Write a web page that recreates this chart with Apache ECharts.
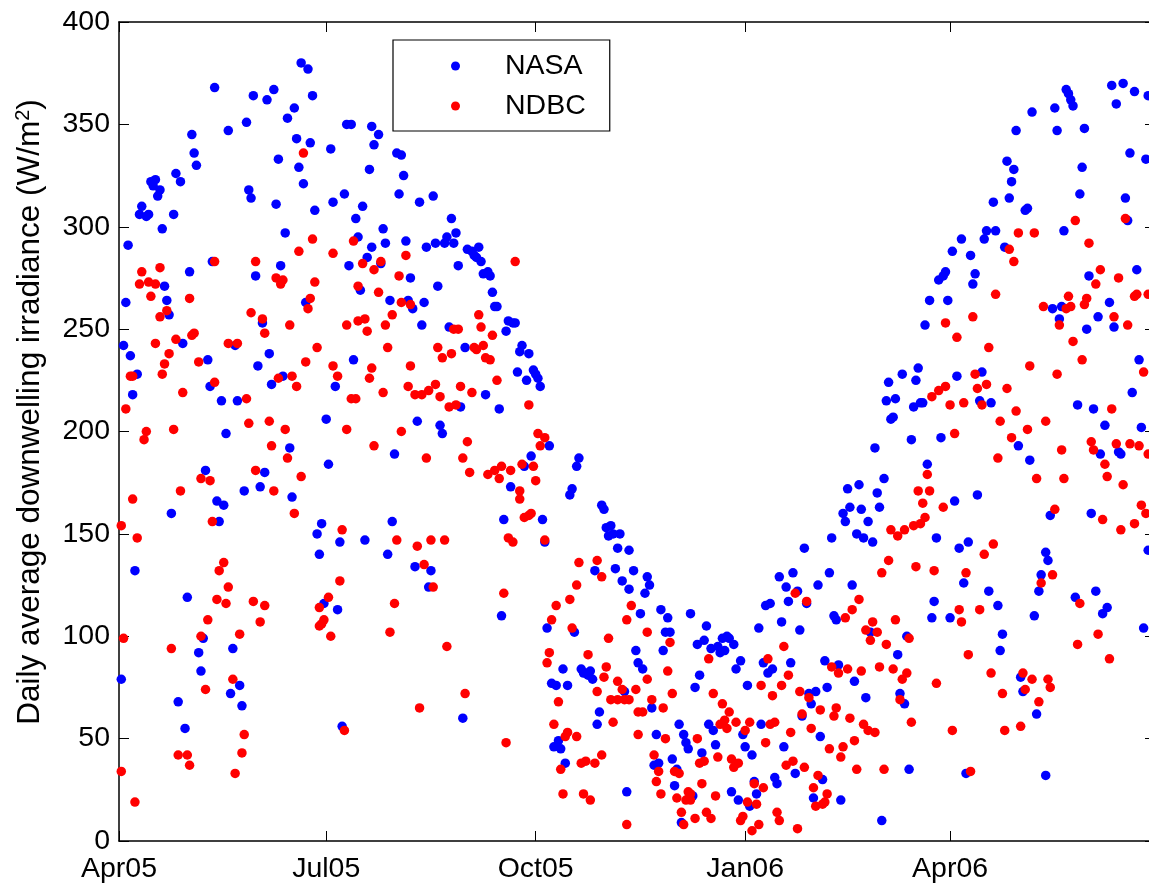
<!DOCTYPE html>
<html>
<head>
<meta charset="utf-8">
<title>Daily average downwelling irradiance</title>
<script src="https://cdn.jsdelivr.net/npm/echarts@6/dist/echarts.min.js"></script>
<style>
  html, body { margin: 0; padding: 0; background: #fff; overflow: hidden; }
  /* the plot box runs a few pixels past the right edge of the page */
  #chart { width: 1160px; height: 884px; }
</style>
</head>
<body>
<div id="chart"></div>
<script>
// Day offsets are counted from 1 April 2005; values in W/m^2.
const dayMax = 455;
const tickDays = [0, 91, 183, 275, 365];
const tickLabels = ['Apr05', 'Jul05', 'Oct05', 'Jan06', 'Apr06'];
const yTicks = [0, 50, 100, 150, 200, 250, 300, 350, 400];

// NASA satellite estimate: [day, value]
const nasaPoints = [
  [4,291],[9,306],[10,310],[12,305],[13,306],[14,322],[15,320],[16,323],[17,315],[18,318],[19,299],[20,271],[24,306],[25,326],[27,322],[31,278],[32,345],[33,336],[34,330],[41,283],[42,368],[48,347],[56,351],[57,318],[58,314],[59,364],[60,276],[65,362],[68,367],[69,311],[70,333],[71,281],[73,297],[74,353],[77,358],[78,343],[79,329],[80,380],[81,321],[83,377],[84,341],[85,364],[86,308],[93,338],[94,312],[99,316],[100,350],[101,281],[102,350],[104,304],[105,295],[106,269],[107,310],[109,285],[110,328],[111,349],[111,290],[112,340],
  [114,345],[115,282],[116,299],[117,292],[122,336],[123,316],[124,335],[125,325],[126,293],[128,275],[132,312],[135,290],[138,315],[139,292],[140,271],[143,292],[144,295],[146,304],[147,292],[148,297],[149,281],[153,289],[155,288],[156,286],[157,285],[158,290],[159,283],[160,277],[162,278],[163,276],[164,268],
  [2,242],[3,263],[5,237],[6,218],[7,132],[8,228],[21,264],[22,257],[23,160],[28,243],[38,181],[39,235],[40,222],[43,166],[44,156],[45,215],[46,164],[47,199],[51,242],[52,215],[55,171],[61,232],[62,173],[63,253],[64,180],[66,238],[67,223],[72,227],[75,192],[76,168],[82,263],[87,150],[88,140],[89,155],[91,206],[92,184],[95,222],[97,146],[103,235],[108,147],
  [1,79],[26,68],[29,55],[30,119],[35,92],[36,83],[37,99],[49,72],[50,94],[53,76],[54,66],[90,116],[96,113],[98,56],
  [118,140],[119,264],[120,156],[121,189],[127,264],[129,260],[130,134],[131,205],[133,252],[134,263],[137,132],[141,203],[142,199],[145,251],[150,212],[152,241],[161,218],[165,261],[166,261],[167,211],[169,157],[170,249],[171,254],[172,173],[173,253],[174,253],[175,229],[176,239],[177,242],[178,183],[179,225],[180,238],[181,188],[182,230],[183,228],[184,226],[185,222],[186,157],[187,146],[189,193],[198,169],[199,172],[201,183],[202,187],[209,132],[212,164],[213,162],[214,153],[215,149],[216,154],[217,150],[218,133],[219,143],[220,150],[224,142],
  [136,124],[151,60],[168,110],[188,104],[190,77],[191,46],[192,76],[193,49],[194,45],[195,84],[196,38],[197,76],[200,102],[203,84],[204,82],[205,82],[206,81],[207,83],[208,79],[210,57],[211,63],[221,127],[222,73],[223,24],[224,123],
  [226,132],[232,129],[290,129],[296,131],[301,143],[312,131],[313,148],[318,160],[319,156],[320,172],[321,163],[324,150],[325,174],[326,162],[327,148],[329,156],[331,146],[332,192],[333,170],[334,163],[336,177],[337,215],[338,224],[339,206],
  [227,93],[228,87],[229,111],[230,84],[231,121],[233,125],[234,65],[235,37],[236,52],[237,38],[238,113],[239,93],[240,102],[241,109],[242,102],[243,40],[244,27],[245,35],[246,57],[247,9],[248,52],[249,48],[250,45],[251,111],[252,22],[253,75],[254,96],[255,81],[256,43],[257,98],[258,105],[259,57],[260,94],[261,54],[262,47],[263,95],[264,92],[265,99],[266,93],[267,100],[268,99],[269,24],[270,96],[271,84],[272,20],[273,88],[274,52],[275,46],[276,76],[277,17],[278,42],[279,29],[280,23],[281,104],[282,57],[283,87],[284,115],[285,82],[286,116],[287,84],[288,31],[289,28],[291,107],[292,46],[293,124],[294,117],[295,87],[297,33],[298,122],[299,103],[300,61],[302,116],[303,72],[304,67],[305,21],[306,73],[307,125],[308,51],[309,30],[310,88],[311,75],[314,110],[315,108],[316,86],[317,20],[322,125],[323,78],[328,70],[330,102],[335,10],
  [340,207],[341,216],[344,228],[348,196],[349,212],[350,225],[351,231],[352,214],[353,214],[354,252],[355,184],[356,264],[359,148],[361,197],[364,264],[367,166],[368,227],[369,143],[373,146],[377,169],[378,215],[379,229],[383,214],[395,193],[400,186],[405,130],[407,141],[408,137],[409,159],[410,260],[413,255],[414,261],[421,213],[425,250],[427,160],[428,211],[430,256],[431,189],[433,203],[435,263],[437,251],[439,190],[440,189],[445,219],[448,235],[449,202],[452,142],
  [360,274],[362,276],[363,278],[366,288],[370,294],[374,286],[375,272],[376,277],[380,294],[381,298],[384,312],[385,298],[389,290],[390,332],[391,314],[392,322],[393,328],[394,347],[398,308],[399,309],[401,356],[411,358],[412,347],[415,298],[416,367],[417,365],[418,362],[419,359],[422,316],[423,329],[424,348],[426,276],[436,369],[438,360],[441,370],[442,314],[443,303],[444,336],[446,366],[447,279],[451,333],[452,364],
  [342,91],[343,72],[345,67],[346,100],[347,35],[357,109],[358,117],[365,109],[371,126],[372,33],[382,122],[386,115],[387,93],[388,101],[396,80],[397,73],[402,110],[403,62],[404,122],[407,32],[420,119],[429,122],[432,111],[434,114],[450,104]
];

// NDBC buoy measurement: [day, value]
const ndbcPoints = [
  [9,272],[10,278],[13,273],[14,266],[16,272],[18,280],[31,265],[42,283],[60,283],[69,275],[71,272],[72,274],[79,288],[81,336],[84,265],[85,294],[86,273],[94,287],[103,293],[105,271],[107,282],[112,279],[114,268],[115,283],[123,276],[126,286],[174,283],
  [1,154],[3,211],[5,227],[6,227],[6,167],[8,148],[11,196],[12,200],[16,243],[18,256],[19,228],[20,233],[21,259],[22,238],[24,201],[25,245],[27,171],[28,219],[32,247],[33,248],[35,234],[36,177],[40,176],[41,156],[42,224],[44,132],[46,136],[48,243],[52,243],[56,216],[57,204],[58,258],[60,181],[63,255],[64,248],[66,205],[67,193],[68,171],[70,226],[73,201],[74,187],[75,252],[76,227],[77,160],[78,222],[80,178],[82,234],[83,260],[87,241],[94,232],[96,227],[98,152],[100,252],[100,201],[102,216],[104,216],[105,254],[108,255],[109,249],[110,226],[111,231],[112,193],
  [1,34],[2,99],[7,19],[23,94],[26,42],[30,42],[31,37],[36,100],[38,74],[39,108],[43,118],[47,116],[48,124],[50,79],[51,33],[53,101],[54,43],[55,52],[59,117],[62,107],[64,115],[88,114],[88,105],[89,106],[90,108],[92,119],[93,100],[97,127],[99,54],
  [116,219],[117,252],[118,241],[120,257],[122,147],[124,263],[124,200],[127,222],[128,262],[128,232],[130,218],[131,144],[133,218],[134,135],[135,187],[136,220],[137,147],[139,223],[140,241],[141,217],[142,236],[143,147],[145,212],[146,238],[147,250],[148,213],[149,250],[150,222],[151,187],[153,195],[154,180],[155,219],[156,241],[157,240],[158,257],[159,251],[160,242],[161,236],[162,179],[163,235],[164,247],[165,181],[166,225],[167,177],[168,183],[171,148],[172,181],[173,146],[176,171],[176,167],[177,184],[178,158],[180,213],[180,159],[181,160],[182,183],[183,176],[184,199],[185,193],[187,197],[187,147],[202,136],[210,137],[212,129],
  [119,102],[121,116],[132,65],[138,124],[144,95],[152,72],[169,121],[170,48],[188,87],[189,92],[190,108],[191,57],[192,115],[193,68],[194,35],[195,23],[196,51],[197,53],[198,118],[199,104],[201,125],[201,51],[203,38],[204,23],[205,39],[206,91],[207,20],[209,38],[210,73],[212,42],[213,80],[214,85],[215,99],[216,69],[217,58],[219,78],[219,69],[221,74],[222,69],[223,108],[223,8],[224,69],[225,115],
  [227,74],[228,63],[228,52],[230,63],[232,102],[232,79],[234,69],[235,42],[236,29],[237,34],[238,23],[239,65],[240,50],[241,83],[242,97],[243,72],[244,34],[245,21],[246,33],[247,14],[248,8],[249,20],[250,24],[251,20],[251,23],[253,11],[254,50],[255,38],[256,28],[257,39],[258,14],[259,89],[260,11],[261,72],[262,22],[263,41],[264,57],[265,67],[266,59],[267,55],[268,63],[269,40],[270,36],[271,58],[272,38],[273,10],[274,12],[275,54],[276,19],[277,58],[278,5],[279,28],[280,18],[281,8],[282,76],[283,26],[284,48],[285,89],[286,57],[287,71],[288,58],[289,14],[290,10],[291,76],[292,95],[293,37],[294,81],[295,53],[296,39],[297,121],[298,6],[299,73],[300,62],[301,36],[302,117],[303,70],[304,55],[305,26],[306,17],[307,32],[308,64],[309,18],[310,19],[311,23],[312,45],[313,85],[314,61],[315,65],[316,82],[317,41],[318,46],[319,109],[320,84],[321,60],[322,113],[323,49],[324,35],[325,118],[326,83],[327,57],[328,103],[329,54],[330,98],[331,107],[332,53],[333,102],[334,85],[336,35],[337,96],
  [335,131],[338,137],[339,152],
  [342,149],[345,152],[349,154],[350,134],[351,171],[352,155],[353,165],[354,158],[355,179],[356,171],[357,217],[358,132],[360,220],[362,163],[363,253],[363,222],[365,213],[367,199],[368,246],[371,214],[372,131],[375,256],[376,228],[377,221],[379,213],[380,140],[381,223],[382,241],[384,145],[386,187],[387,205],[390,221],[392,197],[394,210],[399,201],[400,232],[403,177],[406,261],[407,205],[410,130],[411,162],[412,228],[413,252],[414,191],[415,177],[416,260],[418,261],[419,244],[423,235],[424,262],[427,195],[428,191],[432,157],[433,184],[434,178],[436,211],[437,256],[438,194],[440,152],[441,174],[443,252],[444,194],[446,155],[448,193],[449,164],[450,229],[451,160],[452,189],
  [385,267],[391,289],[393,283],[395,297],[402,297],[417,266],[420,303],[425,265],[426,292],[429,272],[431,279],[439,275],[442,304],[446,266],[447,267],[452,267],
  [340,84],[341,108],[343,69],[344,79],[346,82],[347,99],[348,58],[359,77],[366,54],[369,113],[370,107],[373,91],[374,34],[378,113],[383,82],[388,72],[389,54],[396,56],[397,82],[398,74],[401,79],[404,68],[405,126],[408,79],[409,75],[421,96],[422,116],[430,101],[435,89]
];

const FONT = 'Liberation Sans, Arial, Helvetica, sans-serif';
const TICK_FONT = 28.5;
const LABEL_FONT = 31.5;
const frameLine = { show: true, onZero: false, lineStyle: { color: '#000', width: 1.5 } };
const innerTick = (values) => ({
  show: true, inside: true, length: 10, customValues: values,
  lineStyle: { color: '#000', width: 1 }
});

const chart = echarts.init(document.getElementById('chart'), null, { renderer: 'canvas' });

chart.setOption({
  animation: false,
  backgroundColor: '#fff',
  grid: { left: 119, top: 22, width: 1036, height: 820, containLabel: false },
  xAxis: [
    {
      type: 'value', min: 0, max: dayMax, position: 'bottom',
      axisLine: frameLine,
      axisTick: innerTick(tickDays),
      axisLabel: {
        customValues: tickDays,
        formatter: (v) => tickLabels[tickDays.indexOf(v)],
        color: '#000', fontSize: TICK_FONT, fontFamily: FONT, margin: 14
      },
      splitLine: { show: false }
    },
    {
      type: 'value', min: 0, max: dayMax, position: 'top',
      axisLine: frameLine,
      axisTick: innerTick(tickDays),
      axisLabel: { show: false },
      splitLine: { show: false }
    }
  ],
  yAxis: [
    {
      type: 'value', min: 0, max: 400, interval: 50, position: 'left',
      axisLine: frameLine,
      axisTick: innerTick(yTicks),
      axisLabel: { color: '#000', fontSize: TICK_FONT, fontFamily: FONT, margin: 9 },
      splitLine: { show: false }
    },
    {
      type: 'value', min: 0, max: 400, interval: 50, position: 'right',
      axisLine: frameLine,
      axisTick: innerTick(yTicks),
      axisLabel: { show: false },
      splitLine: { show: false }
    }
  ],
  legend: {
    orient: 'vertical',
    left: 393, top: 40,
    padding: [11, 24, 10, 58],
    itemGap: 10,
    itemWidth: 9, itemHeight: 9,
    backgroundColor: '#fff',
    borderColor: '#000', borderWidth: 1.2,
    textStyle: {
      color: '#000', fontSize: TICK_FONT, fontFamily: FONT, lineHeight: 30,
      padding: [0, 0, 0, 40]
    },
    data: [
      { name: 'NASA', icon: 'circle' },
      { name: 'NDBC', icon: 'circle' }
    ]
  },
  graphic: [
    {
      type: 'text',
      x: 30, y: 412,
      rotation: Math.PI / 2,
      style: {
        text: 'Daily average downwelling irradiance (W/m{sup|2})',
        fill: '#000',
        font: LABEL_FONT + 'px ' + FONT,
        textAlign: 'center',
        textVerticalAlign: 'middle',
        rich: {
          sup: { fontSize: 20, fontFamily: FONT, fill: '#000', verticalAlign: 'top', lineHeight: 34 }
        }
      }
    }
  ],
  series: [
    {
      name: 'NASA', type: 'scatter',
      xAxisIndex: 0, yAxisIndex: 0,
      symbol: 'circle', symbolSize: 9.5,
      itemStyle: { color: '#0000ff', opacity: 1 },
      data: nasaPoints
    },
    {
      name: 'NDBC', type: 'scatter',
      xAxisIndex: 0, yAxisIndex: 0,
      symbol: 'circle', symbolSize: 9.5,
      itemStyle: { color: '#ff0000', opacity: 1 },
      data: ndbcPoints
    }
  ]
});
</script>
</body>
</html>
